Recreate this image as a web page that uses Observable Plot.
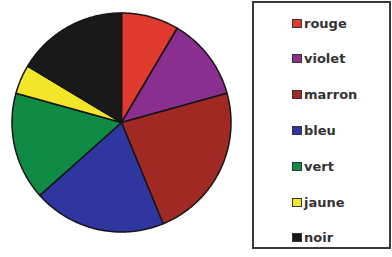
<!DOCTYPE html>
<html>
<head>
<meta charset="utf-8">
<script src="https://cdn.jsdelivr.net/npm/d3@7"></script>
<script src="https://cdn.jsdelivr.net/npm/@observablehq/plot@0.6"></script>
<style>
  html, body { margin: 0; padding: 0; background: #fff; }
  #wrap { position: relative; width: 392px; height: 257px; overflow: hidden; }
  #legend {
    position: absolute; left: 252px; top: 1px; width: 135px; height: 244px;
    border: 2px solid #3a3a3a; box-sizing: content-box;
  }
  .item { position: absolute; left: 38px; height: 14px; display: flex; align-items: center;
    font-family: "DejaVu Sans", sans-serif; font-weight: bold; font-size: 13px; color: #333; }
  .sw { width: 8px; height: 7px; border: 1px solid #333; margin-right: 2px; }
</style>
</head>
<body>
<div id="wrap"><div id="chart"></div><div id="legend"></div></div>
<script>
const categories = ["rouge", "violet", "marron", "bleu", "vert", "jaune", "noir"];
const values = [8.5, 12.2, 23.1, 19.6, 15.9, 4.3, 16.4];
const colors = ["#e0392d", "#8a2f8f", "#a02a23", "#2f36a0", "#0f8b45", "#f2e52a", "#191919"];

const W = 392, H = 257, cx = 121, cy = 122, R = 109.5;

const arcs = d3.pie().sort(null).value(d => d)(values);
const pts = [];
arcs.forEach((a, i) => {
  const cat = categories[i];
  pts.push({cat, x: 0, y: 0});
  const n = Math.max(2, Math.ceil((a.endAngle - a.startAngle) / 0.01));
  for (let k = 0; k <= n; k++) {
    const t = a.startAngle + (a.endAngle - a.startAngle) * k / n;
    pts.push({cat, x: Math.sin(t), y: Math.cos(t)});
  }
  pts.push({cat, x: 0, y: 0});
});

const plot = Plot.plot({
  width: W, height: H,
  margin: 0,
  x: {domain: [-cx / R, (W - cx) / R], axis: null},
  y: {domain: [-(H - cy) / R, cy / R], axis: null},
  color: {domain: categories, range: colors},
  marks: [
    Plot.line(pts, {x: "x", y: "y", z: "cat", fill: "cat", stroke: "#151515", strokeWidth: 1.5, strokeLinejoin: "round", curve: "linear"})
  ]
});
document.getElementById("chart").appendChild(plot);

const legend = document.getElementById("legend");
categories.forEach((c, i) => {
  const it = document.createElement("div");
  it.className = "item";
  it.style.top = (13 + i * 35.8) + "px";
  const sw = document.createElement("span");
  sw.className = "sw";
  sw.style.background = colors[i];
  it.appendChild(sw);
  const tx = document.createElement("span");
  tx.textContent = c;
  it.appendChild(tx);
  legend.appendChild(it);
});
</script>
</body>
</html>
